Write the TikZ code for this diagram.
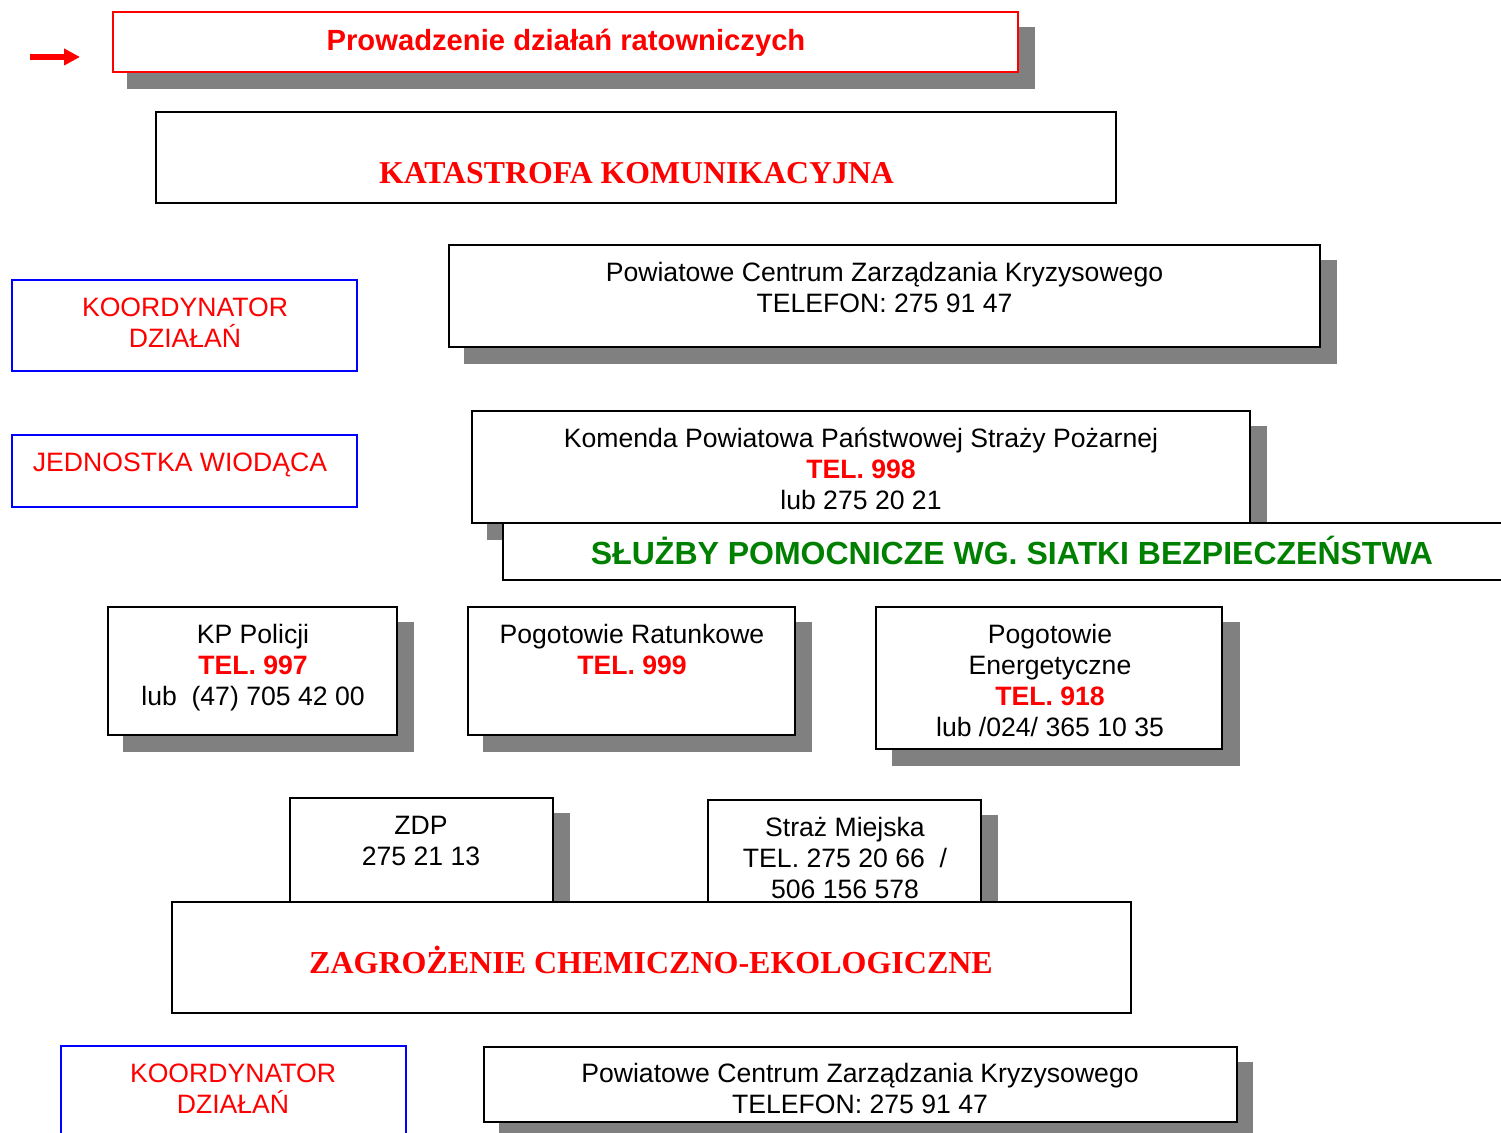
\documentclass[tikz,border=0pt]{standalone}
\usepackage{fontspec}
\setmainfont{Liberation Sans}
\newfontfamily\serifbold{Liberation Serif}
\usetikzlibrary{arrows.meta}
\definecolor{shade}{RGB}{128,128,128}
\definecolor{rd}{RGB}{255,0,0}
\definecolor{bl}{RGB}{0,0,255}
\definecolor{gr}{RGB}{0,128,0}
\tikzset{
  boxbase/.style={draw, fill=white, line width=1.3pt, rectangle, anchor=north west, inner sep=0pt, outer sep=0pt},
  blackbox/.style={boxbase, draw=black},
  bluebox/.style={boxbase, draw=bl, line width=1pt},
  redbox/.style={boxbase, draw=rd, line width=1.2pt},
  shadowbox/.style={fill=shade, draw=none, rectangle, anchor=north west, inner sep=0pt, outer sep=0pt},
  txt/.style={align=center, font=\fontsize{13.3}{15.5}\selectfont, anchor=base, inner sep=0pt},
  redtxt/.style={txt, text=rd},
}
\newcommand\drawbox[6]{\node[#6, minimum width={(#4-#2)*0.5pt}, minimum height={(#5-#3)*0.5pt}] (#1) at (#2,#3) {};}
\begin{document}
\begin{tikzpicture}[x=0.5pt,y=-0.5pt]
\clip (0,0) rectangle (1501,1133);
\fill[white] (0,0) rectangle (1501,1133);

% title
\drawbox{titlesh}{127}{27}{1035}{89}{shadowbox}
\drawbox{title}{113}{12}{1018}{72}{redbox}
\node[anchor=base, inner sep=0pt, text=rd, font=\fontsize{14.6}{17}\selectfont\bfseries] (titletxt) at (566,50.5) {Prowadzenie działań ratowniczych};
\coordinate (arrs) at (30,57);
\coordinate (arre) at (80,57);
\draw[rd, line width=2.8pt, -{Triangle[length=8pt,width=8pt]}] (arrs) -- (arre);

% katastrofa
\drawbox{kat}{156}{112}{1116}{203}{blackbox}
\node[anchor=base, inner sep=0pt, text=rd, font=\fontsize{15.9}{18}\serifbold\bfseries] (kattxt) at (636.5,184) {KATASTROFA KOMUNIKACYJNA};

% PCZK
\drawbox{pczksh}{464}{260}{1337}{364}{shadowbox}
\drawbox{pczk}{449}{245}{1320}{347}{blackbox}
\node[txt] (pczktxt) at (884.5,312.5) {Powiatowe Centrum Zarządzania Kryzysowego\\TELEFON: 275 91 47};

\drawbox{koord}{12}{280}{357}{371}{bluebox}
\node[redtxt] (koordtxt) at (185,347.5) {KOORDYNATOR\\DZIAŁAŃ};

\drawbox{jedn}{12}{435}{357}{507}{bluebox}
\node[redtxt] (jedntxt) at (180,471.5) {JEDNOSTKA WIODĄCA};

% Komenda
\drawbox{komsh}{487}{426}{1267}{540}{shadowbox}
\drawbox{kom}{472}{411}{1250}{523}{blackbox}
\node[txt] (komtxt) at (861,509.5) {Komenda Powiatowa Państwowej Straży Pożarnej\\\textcolor{rd}{\bfseries TEL. 998}\\lub 275 20 21};

% Sluzby
\drawbox{sluz}{503}{523}{1530}{580}{blackbox}
\node[anchor=base, inner sep=0pt, text=gr, font=\fontsize{16}{18}\selectfont\bfseries] (sluztxt) at (1012,564.5) {SŁUŻBY POMOCNICZE WG. SIATKI BEZPIECZEŃSTWA};

% row of services
\drawbox{kpsh}{123}{622}{414}{752}{shadowbox}
\drawbox{kp}{108}{607}{397}{735}{blackbox}
\node[txt] (kptxt) at (253,705.5) {KP Policji\\\textcolor{rd}{\bfseries TEL. 997}\\lub\ \ (47) 705 42 00};

\drawbox{prsh}{483}{622}{812}{752}{shadowbox}
\drawbox{pr}{468}{607}{795}{735}{blackbox}
\node[txt] (prtxt) at (632,674.5) {Pogotowie Ratunkowe\\\textcolor{rd}{\bfseries TEL. 999}};

\drawbox{pesh}{892}{622}{1240}{766}{shadowbox}
\drawbox{pe}{876}{607}{1222}{749}{blackbox}
\node[txt] (petxt) at (1050,736.5) {Pogotowie\\Energetyczne\\\textcolor{rd}{\bfseries TEL. 918}\\lub /024/ 365 10 35};

% ZDP, Straz
\drawbox{zdpsh}{305}{813}{570}{930}{shadowbox}
\drawbox{zdp}{290}{798}{553}{930}{blackbox}
\node[txt] (zdptxt) at (421,865.5) {ZDP\\275 21 13};

\drawbox{smsh}{723}{815}{998}{930}{shadowbox}
\drawbox{sm}{708}{800}{981}{930}{blackbox}
\node[txt] (smtxt) at (845,898.5) {Straż Miejska\\TEL. 275 20 66\ \ /\\506 156 578};

% Zagrozenie
\drawbox{zag}{172}{902}{1131}{1013}{blackbox}
\node[anchor=base, inner sep=0pt, text=rd, font=\fontsize{16}{18}\serifbold\bfseries] (zagtxt) at (651,974) {ZAGROŻENIE CHEMICZNO-EKOLOGICZNE};

% bottom
\drawbox{koord2}{61}{1046}{406}{1160}{bluebox}
\node[redtxt] (koord2txt) at (233,1113.5) {KOORDYNATOR\\DZIAŁAŃ};

\drawbox{pczk2sh}{499}{1062}{1253}{1160}{shadowbox}
\drawbox{pczk2}{484}{1047}{1237}{1122}{blackbox}
\node[txt] (pczk2txt) at (860,1113.5) {Powiatowe Centrum Zarządzania Kryzysowego\\TELEFON: 275 91 47};
\end{tikzpicture}
\end{document}
